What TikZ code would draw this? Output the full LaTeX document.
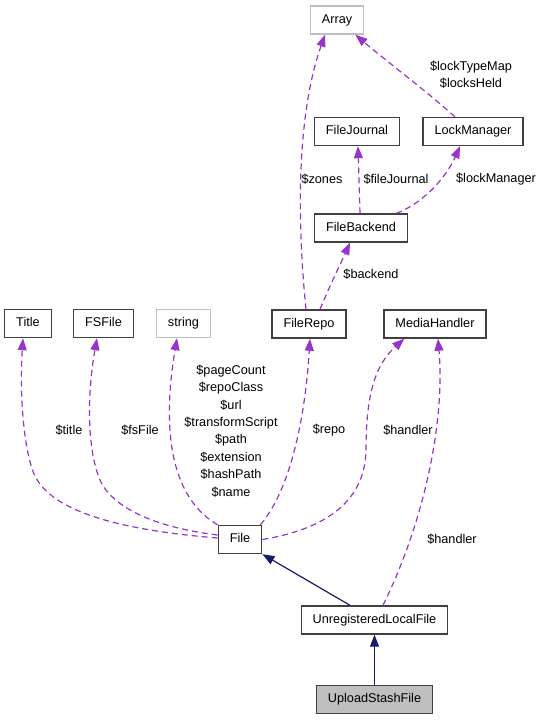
\documentclass[tikz,border=0pt]{standalone}
\usepackage{fontspec}
\setmainfont{Liberation Sans}
\usetikzlibrary{arrows.meta}

\definecolor{edgepurple}{HTML}{9A32CD}
\definecolor{inhnavy}{HTML}{191970}
\definecolor{boxgray}{HTML}{404040}
\definecolor{extgray}{HTML}{BFBFBF}

\begin{document}
\begin{tikzpicture}[x=1pt,y=-1pt,font=\fontsize{12.7}{17.4}\selectfont,
  cls/.style={draw=boxgray,line width=1.4pt,minimum height=28pt,inner xsep=11.5pt,text height=9pt,text depth=2.5pt},
  ext/.style={cls,draw=extgray},
  member/.style={draw=edgepurple,line width=1.2pt,dash pattern=on 6pt off 4pt,-{Triangle[length=12pt,width=9pt,fill=edgepurple]}},
  inh/.style={draw=inhnavy,line width=1.2pt,-{Triangle[length=12pt,width=9pt,fill=inhnavy]}},
  lbl/.style={inner sep=0pt,align=center}]
  \useasboundingbox (0,0) rectangle (541,720);
  % classes
  \foreach \n/\x/\y/\t in {journal/357/131.5/FileJournal,lockmgr/473/131.5/LockManager,
      backend/361/228/FileBackend,title/28/323.5/Title,fsfile/103.5/323.5/FSFile,
      repo/309/324/FileRepo,media/435/324/MediaHandler,file/240/539.5/File,
      ulf/374.5/620/UnregisteredLocalFile}
    \node[cls] (\n) at (\x,\y) {\t};
  \node[ext] (array) at (337,20) {Array};
  \node[ext] (string) at (183.5,323.5) {string};
  \node[cls,fill=extgray] (usf) at (374.5,699.5) {UploadStashFile};
  % members of File
  \draw[member] ([yshift=1.5pt]file.west) .. controls (120,530) and (55,512) .. (36,478)
    .. controls (25,458) and (19,400) .. ([xshift=-5pt]title.south);
  \draw[member] ([yshift=4.5pt]file.west) .. controls (160,528) and (115,510) .. (101,482)
    .. controls (88,455) and (86,400) .. ([xshift=-6.5pt]fsfile.south);
  \draw[member] (file.north west) .. controls (175,500) and (160,440) .. ([xshift=-6.5pt]string.south);
  \draw[member] ([xshift=-2pt]file.north east) .. controls (290,490) and (305,420) .. ([xshift=1pt]repo.south);
  \draw[member] (file.east) .. controls (320,530) and (365,505) .. (366,450)
    .. controls (366,395) and (375,365) .. ([xshift=21pt]media.south west);
  \draw[member] ([xshift=8.5pt]ulf.north) .. controls (425,520) and (445,420) .. ([xshift=3pt]media.south);
  % members of FileRepo and FileBackend
  \draw[member] ([xshift=-3pt]repo.north) .. controls (298,230) and (295,120) .. ([xshift=-12pt]array.south);
  \draw[member] ([xshift=11pt]repo.north) .. controls (330,285) and (340,265) .. ([xshift=-11pt]backend.south);
  \draw[member] ([xshift=-1pt]backend.north) -- ([xshift=1pt]journal.south);
  \draw[member] ([xshift=-12pt]backend.north east) .. controls (420,205) and (445,180) .. ([xshift=-13pt]lockmgr.south);
  \draw[member] ([xshift=-18pt]lockmgr.north) .. controls (425,90) and (385,60) .. ([xshift=-9pt]array.south east);
  % inheritance
  \draw[inh] ([xshift=-24.5pt]ulf.north) -- (file.south east);
  \draw[inh] (usf.north) -- (ulf.south);
  % labels
  \node[lbl] (ltitle) at (69,430) {\$title};
  \node[lbl] (lfsfile) at (140,430) {\$fsFile};
  \node[lbl] (lstring) at (231,431) {\$pageCount\\\$repoClass\\\$url\\\$transformScript\\\$path\\\$extension\\\$hashPath\\\$name};
  \node[lbl] (lrepo) at (329,430) {\$repo};
  \node[lbl] (lmedia) at (408,430) {\$handler};
  \node[lbl] (lulf) at (452,539) {\$handler};
  \node[lbl] (lzones) at (322,179) {\$zones};
  \node[lbl] (ljournal) at (396,179) {\$fileJournal};
  \node[lbl] (llock) at (496,179) {\$lockManager};
  \node[lbl] (lbackend) at (371,274) {\$backend};
  \node[lbl] (lmaps) at (471,75) {\$lockTypeMap\\\$locksHeld};
\end{tikzpicture}
\end{document}
